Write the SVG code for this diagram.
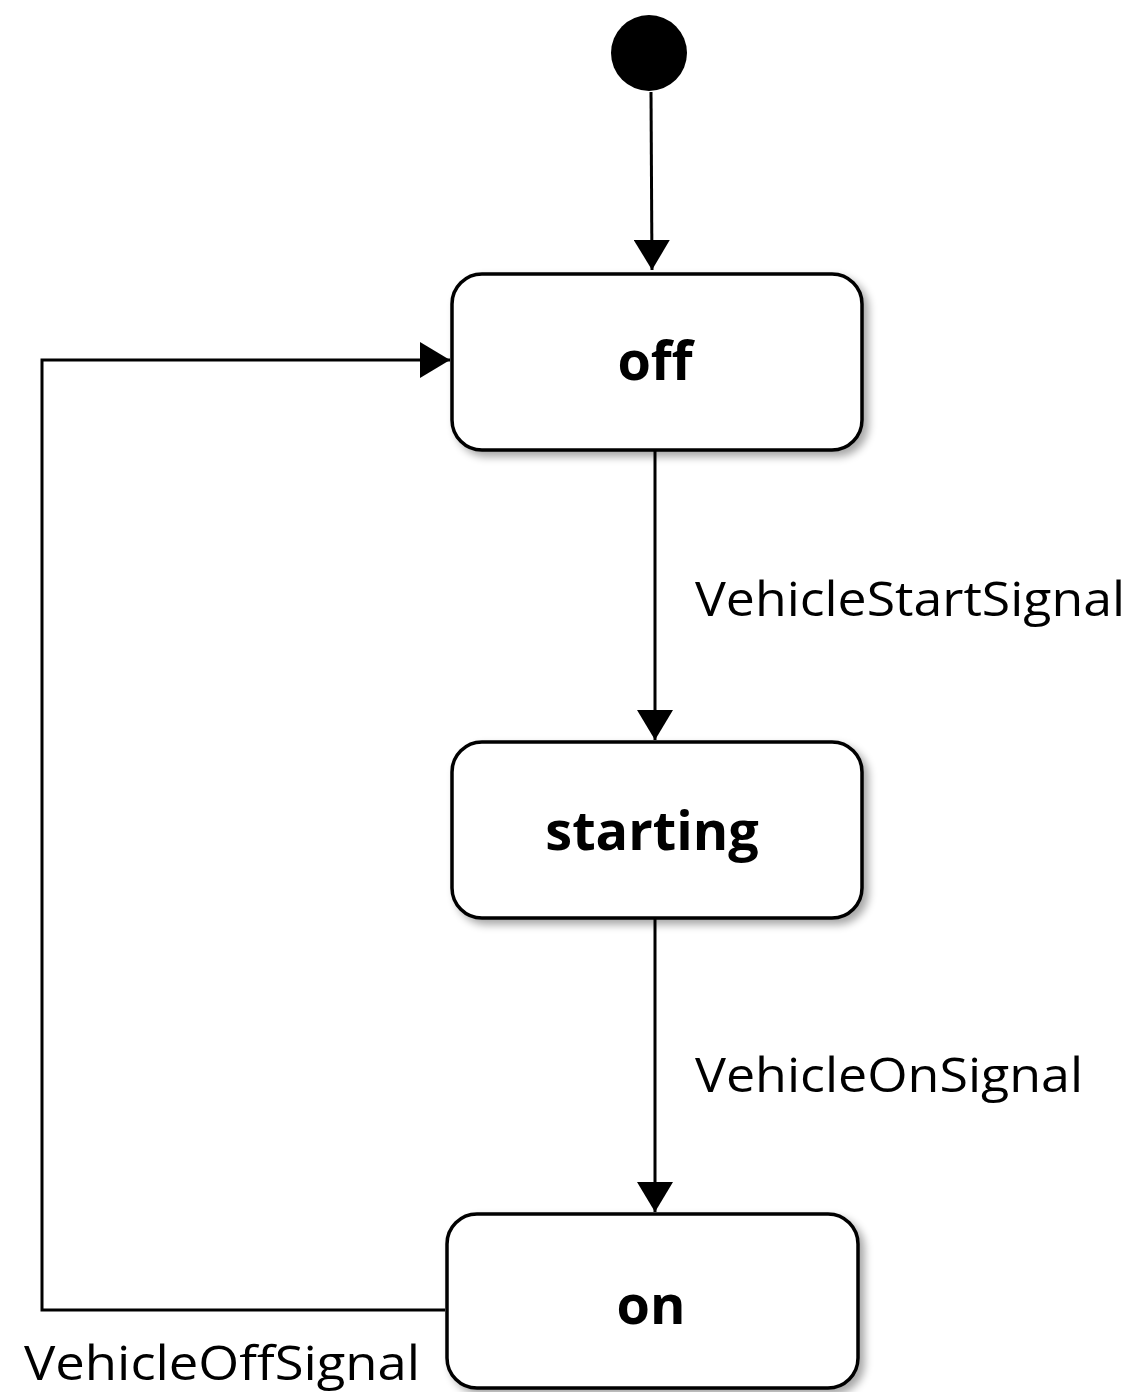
<svg xmlns="http://www.w3.org/2000/svg" width="1137" height="1392" viewBox="0 0 1137 1392">
<style>
.state{fill:#fff;stroke:#000;stroke-width:3.5}
.name{font-family:"Open Sans","DejaVu Sans",sans-serif;font-weight:bold;font-size:54px;text-anchor:middle;fill:#000}
.lbl{font-family:"Open Sans","DejaVu Sans",sans-serif;font-size:48px;fill:#000}
.conn{fill:none;stroke:#000;stroke-width:3}
</style>
<defs>
<marker id="arr" viewBox="0 0 30 36" refX="30" refY="18" markerWidth="30" markerHeight="36" markerUnits="userSpaceOnUse" orient="auto">
<path d="M0,0 L30,18 L0,36 Z" fill="#000"/>
</marker>
<filter id="sh" x="-10%" y="-10%" width="125%" height="130%">
<feGaussianBlur in="SourceAlpha" stdDeviation="4"/>
<feOffset dx="5" dy="5" result="b"/>
<feComponentTransfer><feFuncA type="linear" slope="0.35"/></feComponentTransfer>
<feMerge><feMergeNode/><feMergeNode in="SourceGraphic"/></feMerge>
</filter>
</defs>
<rect width="1137" height="1392" fill="#fff"/>
<g id="connectors">
<path class="conn" d="M651,92 L652,270" marker-end="url(#arr)"/>
<path class="conn" d="M655,450 L655,740" marker-end="url(#arr)"/>
<path class="conn" d="M655,918 L655,1212" marker-end="url(#arr)"/>
<path class="conn" d="M445,1310 L42,1310 L42,360 L450,360" marker-end="url(#arr)"/>
<text class="lbl" x="695" y="616" textLength="430" lengthAdjust="spacingAndGlyphs">VehicleStartSignal</text>
<text class="lbl" x="695" y="1092" textLength="388" lengthAdjust="spacingAndGlyphs">VehicleOnSignal</text>
<text class="lbl" x="24" y="1380" textLength="396" lengthAdjust="spacingAndGlyphs">VehicleOffSignal</text>
</g>
<g id="initial">
<circle cx="649" cy="53" r="38" fill="#000"/>
</g>
<g id="off">
<rect class="state" x="452" y="274" width="410" height="176" rx="30" filter="url(#sh)"/>
<text class="name" x="655" y="380">off</text>
</g>
<g id="starting">
<rect class="state" x="452" y="742" width="410" height="176" rx="30" filter="url(#sh)"/>
<text class="name" x="652" y="850">starting</text>
</g>
<g id="on">
<rect class="state" x="447" y="1214" width="411" height="174" rx="30" filter="url(#sh)"/>
<text class="name" x="651" y="1324">on</text>
</g>
</svg>
